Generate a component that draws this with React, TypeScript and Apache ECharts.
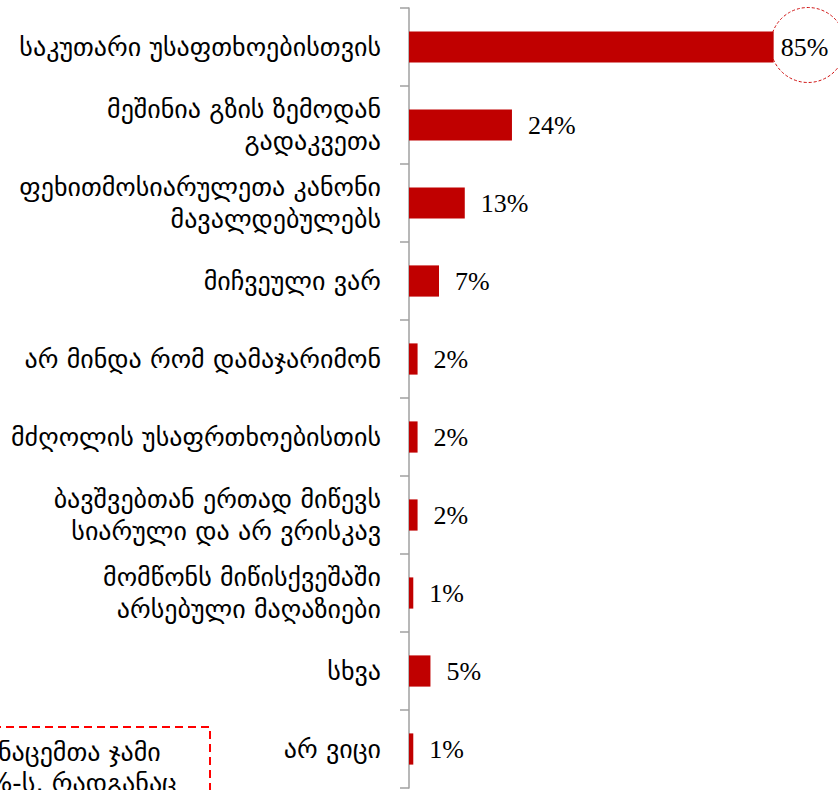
import React, { useEffect, useRef } from "react";
import * as echarts from "echarts";

const categories: string[] = [
  "საკუთარი უსაფთხოებისთვის",
  "მეშინია გზის ზემოდან\nგადაკვეთა",
  "ფეხითმოსიარულეთა კანონი\nმავალდებულებს",
  "მიჩვეული ვარ",
  "არ მინდა რომ დამაჯარიმონ",
  "მძღოლის უსაფრთხოებისთის",
  "ბავშვებთან ერთად მიწევს\nსიარული და არ ვრისკავ",
  "მომწონს მიწისქვეშაში\nარსებული მაღაზიები",
  "სხვა",
  "არ ვიცი",
];

const values: number[] = [85, 24, 13, 7, 2, 2, 2, 1, 5, 1];

const noteLines: string[] = ["მონაცემთა ჯამი", "100%-ს, რადგანაც"];

const GEO_FONT = "'DejaVu Sans', 'Noto Sans', sans-serif";
const NUM_FONT = "'Liberation Serif', 'DejaVu Serif', serif";

export default function App() {
  const ref = useRef<HTMLDivElement>(null);

  useEffect(() => {
    if (!ref.current) return;
    const chart = echarts.init(ref.current, undefined, { renderer: "svg" });
    chart.setOption({
      animation: false,
      backgroundColor: "#ffffff",
      grid: { left: 409, top: 8, width: 433, height: 780, containLabel: false },
      xAxis: {
        type: "value",
        min: 0,
        max: 100,
        show: false,
        splitLine: { show: false },
      },
      yAxis: {
        type: "category",
        inverse: true,
        data: categories,
        axisLine: { show: true, lineStyle: { color: "#a0a0a0", width: 1.5 } },
        axisTick: { show: true, length: 9, lineStyle: { color: "#a0a0a0", width: 1.5 } },
        axisLabel: {
          margin: 28,
          color: "#000",
          fontSize: 26,
          lineHeight: 32,
          fontFamily: GEO_FONT,
          align: "right",
        },
      },
      series: [
        {
          type: "bar",
          data: values.map((v, i) =>
            i === 0 ? { value: v, label: { distance: 7 } } : v
          ),
          barCategoryGap: "60%",
          itemStyle: { color: "#c00000" },
          label: {
            show: true,
            position: "right",
            distance: 16,
            formatter: "{c}%",
            color: "#000",
            fontSize: 26,
            fontFamily: NUM_FONT,
          },
        },
      ],
      graphic: [
        {
          type: "circle",
          shape: { cx: 808, cy: 45, r: 37.5 },
          style: { fill: "none", stroke: "#d01010", lineWidth: 1, lineDash: [3, 2] },
          silent: true,
        },
        {
          type: "rect",
          shape: { x: -20, y: 727, width: 230, height: 120 },
          style: { fill: "none", stroke: "#ff0000", lineWidth: 2, lineDash: [8, 5] },
          silent: true,
        },
        {
          type: "text",
          x: -36,
          y: 752,
          style: {
            text: noteLines[0],
            fill: "#000",
            fontSize: 26,
            fontFamily: GEO_FONT,
            verticalAlign: "middle",
          },
        },
        {
          type: "text",
          x: -62,
          y: 783,
          style: {
            text: noteLines[1],
            fill: "#000",
            fontSize: 26,
            fontFamily: GEO_FONT,
            verticalAlign: "middle",
          },
        },
      ],
    });
    return () => chart.dispose();
  }, []);

  return (
    <div
      ref={ref}
      style={{ position: "absolute", left: 0, top: 0, width: 838, height: 790 }}
    />
  );
}
